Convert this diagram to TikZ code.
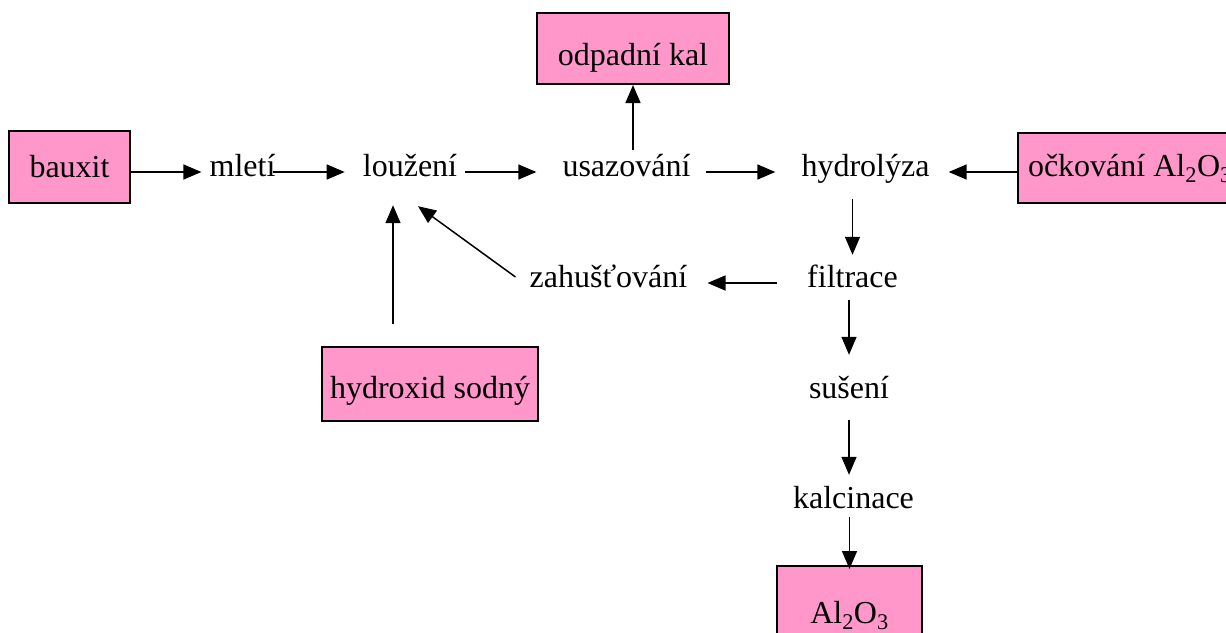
\documentclass[tikz,border=0pt]{standalone}
\usepackage{fontspec}
\setmainfont{Liberation Serif}
\usetikzlibrary{arrows.meta,calc}
\definecolor{boxpink}{HTML}{FF97CA}
\tikzset{
  txt/.style={font=\fontsize{32}{38}\selectfont, inner sep=0pt, text height=8pt, text depth=0pt},
  feed/.style={font=\fontsize{32}{38}\selectfont, draw=black, line width=2pt, fill=boxpink, inner sep=0pt, text depth=0pt},
  flow/.style={line width=1.5pt, -{Triangle[length=18pt,width=15pt]}}
}
\begin{document}
\begin{tikzpicture}[x=1pt,y=-1pt]
\useasboundingbox (0,0) rectangle (1226,632);

% input / output boxes
\node[feed, minimum width=121pt, minimum height=72pt, text height=20pt] (bauxit) at (69.5,167) {bauxit};
\node[feed, minimum width=192pt, minimum height=71pt, text height=33pt] (kal) at (633,48.5) {odpadní kal};
\node[feed, anchor=west, minimum height=70pt, text height=16pt, inner xsep=10pt, align=left] (ock) at (1017,168) {očkování Al\textsubscript{2}O\textsubscript{3}};
\node[feed, minimum width=216pt, minimum height=74pt, text height=28pt] (naoh) at (430,384) {hydroxid sodný};
\node[feed, anchor=north, minimum width=145pt, minimum height=100pt, text height=14pt] (al) at (849.5,565) {Al\textsubscript{2}O\textsubscript{3}};

% process steps
\node[txt] (mleti) at (242.5,172) {mletí};
\node[txt] (louz) at (410,172) {loužení};
\node[txt] (usaz) at (626.5,172) {usazování};
\node[txt] (hydro) at (865.5,172) {hydrolýza};
\node[txt] (zah) at (608.5,283) {zahušťování};
\node[txt] (filtr) at (852.5,283) {filtrace};
\node[txt] (susen) at (849,394) {sušení};
\node[txt] (kalc) at (853.5,504) {kalcinace};

% free ends of the two feed-back lines into leaching
\coordinate (naohOut) at ($(naoh.north)+(-37,-22)$);
\coordinate (zahOut) at ($(zah.west)+(-14,-6)$);
\coordinate (louzIn) at ($(louz.south)+(8,30)$);

% main line
\draw[flow, shorten >=8pt] (bauxit.east |- mleti.west) -- (mleti.west);
\draw[flow, shorten <=-3pt, shorten >=18pt] (mleti.east) -- (louz.west);
\draw[flow, shorten <=8pt, shorten >=26pt] (louz.east) -- (usaz.west);
\draw[flow, shorten <=15pt, shorten >=26pt] (usaz.east) -- (hydro.west);
\draw[flow, shorten >=19pt] (ock.west |- hydro.east) -- (hydro.east);
\draw[flow, shorten <=18pt] (kal.south |- usaz.north) -- (kal.south);

% down the right-hand column
\draw[flow, shorten <=23pt, shorten >=24pt] (filtr.north |- hydro.south) -- (filtr.north);
\draw[flow, shorten <=30pt, shorten >=20pt] (filtr.west) -- (zah.east);
\draw[flow, shorten <=13pt, shorten >=35pt] (susen.north |- filtr.south) -- (susen.north);
\draw[flow, shorten <=22pt, shorten >=25pt] (susen.south) -- (susen.south |- kalc.north);
\draw[flow, shorten <=9pt, shorten >=-4pt] (al.north |- kalc.south) -- (al.north);

% returns to leaching
\draw[flow, shorten >=29pt] (naohOut) -- (naohOut |- louz.south);
\draw[flow] (zahOut) -- (louzIn);
\end{tikzpicture}
\end{document}
